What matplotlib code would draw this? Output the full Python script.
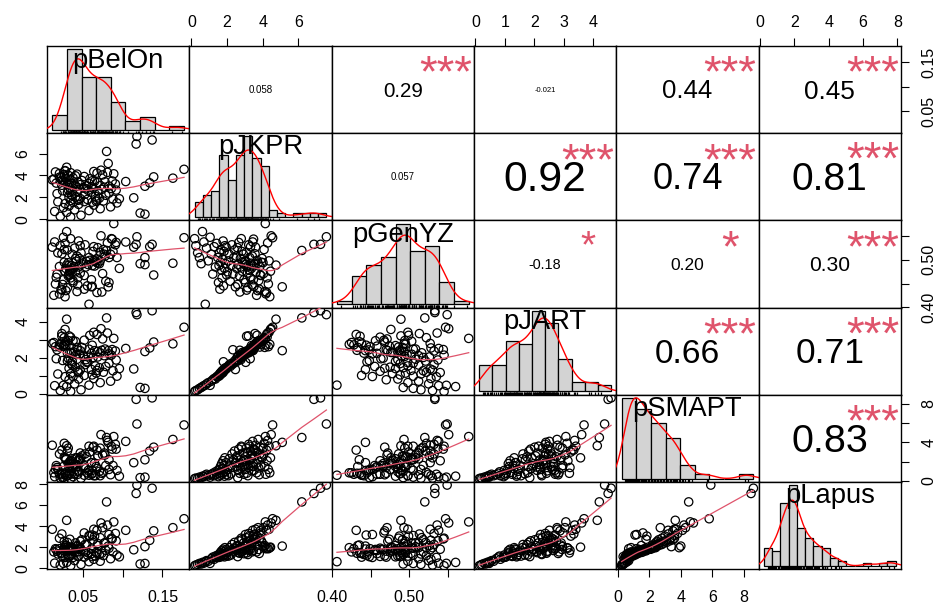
import numpy as np
import matplotlib
matplotlib.use("Agg")
import matplotlib.pyplot as plt
import matplotlib.transforms as mtransforms
from matplotlib.font_manager import FontProperties
from matplotlib.textpath import TextPath

plt.rcParams['font.family'] = ['Liberation Sans', 'DejaVu Sans']

# estimated observations (read off the scatter panels / histograms)
pBelOn = [0.035, 0.022, 0.048, 0.128, 0.122, 0.030, 0.015, 0.058, 0.040, 0.072,
          0.026, 0.085, 0.033, 0.064, 0.045, 0.028, 0.093, 0.038, 0.062, 0.019,
          0.052, 0.067, 0.076, 0.035, 0.044, 0.068, 0.045, 0.056, 0.088, 0.096,
          0.047, 0.071, 0.114, 0.033, 0.041, 0.066, 0.037, 0.079, 0.036, 0.053,
          0.018, 0.083, 0.031, 0.061, 0.043, 0.037, 0.069, 0.025, 0.057, 0.092,
          0.032, 0.074, 0.046, 0.054, 0.086, 0.063, 0.034, 0.051, 0.077, 0.061,
          0.042, 0.128, 0.083, 0.055, 0.072, 0.024, 0.039, 0.047, 0.031, 0.033,
          0.091, 0.036, 0.058, 0.017, 0.134, 0.069, 0.029, 0.044, 0.078, 0.104,
          0.065, 0.026, 0.087, 0.062, 0.049, 0.024, 0.012, 0.034, 0.014, 0.059,
          0.029, 0.163, 0.038, 0.023, 0.021, 0.139, 0.052, 0.027, 0.041, 0.032,
          0.075, 0.027, 0.043, 0.089, 0.021, 0.068, 0.035, 0.081, 0.016, 0.064,
          0.028, 0.028, 0.073, 0.177, 0.030, 0.082, 0.080, 0.117, 0.137, 0.118]
pJKPR = [0.18, 0.25, 0.35, 0.45, 0.55, 0.62, 0.70, 0.78, 0.85, 0.95,
         1.05, 1.12, 1.20, 1.28, 1.35, 1.42, 1.48, 1.52, 1.55, 1.58,
         1.60, 1.63, 1.66, 1.70, 1.72, 1.75, 1.78, 1.80, 1.83, 1.86,
         1.88, 1.92, 1.95, 1.98, 2.02, 2.08, 2.12, 2.18, 2.22, 2.28,
         2.33, 2.38, 2.42, 2.47, 2.52, 2.55, 2.58, 2.60, 2.63, 2.66,
         2.70, 2.72, 2.75, 2.78, 2.80, 2.83, 2.86, 2.88, 2.92, 2.95,
         2.98, 3.01, 3.03, 3.05, 3.08, 3.10, 3.12, 3.15, 3.17, 3.20,
         3.22, 3.25, 3.27, 3.30, 3.32, 3.35, 3.37, 3.40, 3.42, 3.44,
         3.46, 3.48, 3.49, 3.51, 3.54, 3.57, 3.60, 3.63, 3.66, 3.69,
         3.72, 3.75, 3.78, 3.81, 3.84, 3.87, 3.90, 3.94, 3.97, 4.02,
         4.05, 4.08, 4.12, 4.15, 4.18, 4.22, 4.25, 4.28, 4.32, 4.36,
         4.40, 4.44, 4.48, 4.56, 4.75, 5.10, 6.20, 6.88, 7.25, 7.58]
pGenYZ = [0.545, 0.530, 0.515, 0.505, 0.492, 0.560, 0.538, 0.406, 0.525, 0.498,
          0.548, 0.512, 0.470, 0.528, 0.485, 0.535, 0.505, 0.452, 0.488, 0.515,
          0.438, 0.495, 0.522, 0.478, 0.462, 0.502, 0.540, 0.445, 0.518, 0.482,
          0.530, 0.492, 0.527, 0.468, 0.475, 0.498, 0.512, 0.455, 0.488, 0.532,
          0.470, 0.505, 0.521, 0.443, 0.508, 0.482, 0.526, 0.448, 0.490, 0.537,
          0.466, 0.432, 0.503, 0.485, 0.545, 0.518, 0.476, 0.494, 0.512, 0.458,
          0.497, 0.490, 0.452, 0.497, 0.516, 0.436, 0.485, 0.472, 0.441, 0.489,
          0.532, 0.478, 0.505, 0.463, 0.528, 0.493, 0.482, 0.447, 0.508, 0.538,
          0.487, 0.458, 0.544, 0.444, 0.491, 0.513, 0.527, 0.474, 0.425, 0.499,
          0.435, 0.493, 0.456, 0.438, 0.486, 0.468, 0.467, 0.495, 0.503, 0.494,
          0.471, 0.522, 0.433, 0.577, 0.428, 0.431, 0.462, 0.536, 0.449, 0.498,
          0.422, 0.476, 0.551, 0.547, 0.489, 0.443, 0.520, 0.533, 0.533, 0.549]
pJART = [0.13, 0.18, 0.22, 0.30, 0.35, 0.40, 0.45, 0.48, 0.55, 0.62,
         0.47, 0.70, 0.78, 0.85, 0.82, 0.95, 0.98, 0.96, 1.05, 1.10,
         1.02, 1.15, 1.20, 1.12, 1.25, 1.30, 1.18, 1.78, 1.28, 1.40,
         1.32, 1.45, 1.38, 1.42, 1.48, 1.55, 1.60, 1.52, 1.68, 1.62,
         2.45, 1.70, 1.82, 1.35, 1.92, 1.80, 2.05, 1.85, 2.10, 1.88,
         1.98, 2.42, 2.20, 1.90, 2.15, 2.02, 2.30, 2.08, 2.12, 2.25,
         2.18, 2.35, 2.22, 1.75, 2.28, 3.20, 2.32, 2.40, 2.26, 3.22,
         2.38, 2.30, 2.48, 1.95, 2.55, 2.36, 2.68, 2.44, 2.49, 2.52,
         2.40, 2.65, 2.46, 2.70, 2.58, 3.35, 2.80, 2.66, 2.85, 3.25,
         2.90, 2.78, 2.95, 2.82, 2.60, 2.88, 2.98, 2.76, 2.92, 2.96,
         3.05, 3.12, 2.58, 3.08, 2.72, 3.30, 3.15, 3.38, 2.62, 3.42,
         2.75, 3.58, 3.62, 3.70, 4.15, 2.40, 4.22, 4.52, 4.62, 4.40]
pSMAPT = [0.25, 0.30, 0.28, 0.40, 0.35, 0.50, 0.45, 0.60, 0.70, 0.55,
          0.40, 0.65, 0.80, 0.55, 0.95, 0.70, 1.10, 0.45, 0.80, 1.20,
          0.60, 1.50, 0.90, 1.80, 0.70, 1.30, 2.10, 0.85, 1.60, 0.50,
          2.40, 1.00, 1.90, 0.65, 1.20, 0.55, 2.30, 1.60, 0.75, 2.80,
          1.40, 2.20, 3.10, 1.90, 2.40, 1.50, 2.60, 0.35, 1.10, 3.30,
          1.80, 0.80, 2.20, 1.30, 3.60, 3.50, 2.00, 1.45, 2.90, 0.70,
          1.70, 2.20, 1.20, 2.50, 3.40, 0.80, 1.70, 2.90, 0.55, 1.40,
          3.80, 2.10, 3.60, 1.60, 3.10, 2.60, 2.30, 1.05, 2.70, 4.10,
          1.85, 1.50, 3.30, 1.10, 2.60, 3.20, 3.70, 1.80, 0.85, 3.00,
          2.20, 4.30, 1.35, 0.65, 2.80, 3.50, 1.60, 2.50, 2.40, 3.40,
          2.70, 3.90, 1.50, 4.60, 0.70, 3.20, 2.10, 4.20, 1.20, 3.60,
          0.85, 2.40, 4.80, 5.80, 3.65, 4.00, 4.50, 8.45, 8.60, 5.90]
pLapus = [0.23, 0.30, 0.36, 0.45, 0.40, 0.55, 0.48, 0.62, 0.72, 0.66,
          0.46, 0.90, 1.05, 0.85, 1.15, 1.02, 1.25, 1.02, 1.10, 1.35,
          1.05, 1.50, 1.20, 1.65, 1.12, 1.40, 1.80, 1.25, 1.55, 1.08,
          1.95, 1.30, 1.75, 1.18, 1.52, 1.15, 1.95, 1.70, 1.25, 2.25,
          1.62, 1.90, 2.45, 1.82, 2.05, 1.68, 2.15, 1.10, 1.48, 2.60,
          1.78, 1.42, 1.92, 1.55, 2.85, 2.70, 1.85, 1.60, 2.38, 1.38,
          1.75, 2.05, 3.20, 2.25, 2.90, 1.45, 1.85, 2.55, 1.30, 1.70,
          3.30, 1.96, 3.10, 1.78, 2.65, 2.35, 2.15, 1.55, 2.42, 3.60,
          3.05, 1.68, 2.78, 3.15, 2.70, 3.25, 3.70, 2.75, 1.55, 3.05,
          2.20, 3.85, 1.78, 1.40, 2.85, 3.55, 3.35, 2.55, 2.40, 2.05,
          3.85, 1.95, 2.15, 4.40, 1.85, 3.60, 1.90, 4.10, 1.85, 3.70,
          1.95, 2.00, 4.30, 4.70, 4.55, 2.10, 6.30, 7.10, 7.60, 7.90]

var_names = ['pBelOn', 'pJKPR', 'pGenYZ', 'pJART', 'pSMAPT', 'pLapus']

# upper panels, row by row: (1,2) (1,3) ... (5,6)
cor_text = ['0.058', '0.29', '-0.021', '0.44', '0.45',
            '0.057', '0.92', '0.74', '0.81',
            '-0.18', '0.20', '0.30',
            '0.66', '0.71',
            '0.83']
cor_stars = ['', '***', '', '***', '***',
             '', '***', '***', '***',
             '*', '*', '***',
             '***', '***',
             '***']

hist_step = [0.02, 0.5, 0.02, 0.5, 1.0, 0.5]

top_ticks = {1: [0, 2, 4, 6], 3: [0, 1, 2, 3, 4], 5: [0, 2, 4, 6, 8]}
top_labels = {1: ['0', '2', '4', '6'], 3: ['0', '1', '2', '3', '4'], 5: ['0', '2', '4', '6', '8']}
bottom_ticks = {0: [0.05, 0.10, 0.15], 2: [0.40, 0.45, 0.50, 0.55], 4: [0, 2, 4, 6, 8]}
bottom_labels = {0: ['0.05', '', '0.15'], 2: ['0.40', '', '0.50', ''], 4: ['0', '2', '4', '6', '8']}
left_ticks = {1: [0, 2, 4, 6], 3: [0, 1, 2, 3, 4], 5: [0, 2, 4, 6, 8]}
left_labels = {1: ['0', '2', '4', '6'], 3: ['0', '', '2', '', '4'], 5: ['0', '2', '4', '6', '8']}
right_ticks = {0: [0.05, 0.10, 0.15], 2: [0.40, 0.45, 0.50, 0.55], 4: [0, 2, 4, 6, 8]}
right_labels = {0: ['0.05', '', '0.15'], 2: ['0.40', '', '0.50', ''], 4: ['0', '', '4', '', '8']}

data = [np.array(v, dtype=float) for v in (pBelOn, pJKPR, pGenYZ, pJART, pSMAPT, pLapus)]
nv = len(data)

SMOOTH_COL = '#DF536B'
FAM = ['Liberation Sans', 'DejaVu Sans']


def lowess(x, y, f=2 / 3, iters=3):
    o = np.argsort(x)
    x = x[o]
    y = y[o]
    n = len(x)
    r = max(min(int(np.floor(f * n + 1e-7)), n), 2)
    fit = np.zeros(n)
    rw = np.ones(n)
    for it in range(iters + 1):
        for i in range(n):
            d = np.abs(x - x[i])
            h = np.sort(d)[r - 1]
            u = np.clip(d / max(h, 1e-12), 0, 1)
            w = (1 - u ** 3) ** 3 * rw
            sw = w.sum()
            xm = (w * x).sum() / sw
            ym = (w * y).sum() / sw
            den = (w * (x - xm) ** 2).sum()
            b = (w * (x - xm) * (y - ym)).sum() / den if den > 1e-12 else 0.0
            fit[i] = ym + b * (x[i] - xm)
        res = y - fit
        s = np.median(np.abs(res))
        if s < 1e-12:
            break
        u = np.clip(res / (6 * s), -1, 1)
        rw = (1 - u ** 2) ** 2
    return x, fit


def kde(v):
    n = len(v)
    sd = np.std(v, ddof=1)
    q75, q25 = np.percentile(v, [75, 25])
    bw = 0.9 * min(sd, (q75 - q25) / 1.34) * n ** -0.2
    xs = np.linspace(v.min() - 3 * bw, v.max() + 3 * bw, 512)
    ys = np.exp(-0.5 * ((xs[:, None] - v[None, :]) / bw) ** 2).sum(axis=1) / (n * bw * np.sqrt(2 * np.pi))
    return xs, ys


def padded(lo, hi):
    p = 0.04 * (hi - lo)
    return lo - p, hi + p


W, H = 934, 607
fig = plt.figure(figsize=(9.34, 6.07), dpi=100)
renderer = fig.canvas.get_renderer()

gx0, gx1, gy0, gy1 = 47, 901, 46, 569
pw = (gx1 - gx0) / nv
ph = (gy1 - gy0) / nv


def ink_text(ax, x, y, s, size, color='black'):
    # centre the ink of the string on (x, y), like R's text()
    fp = FontProperties(family=FAM, size=size)
    ext = TextPath((0, 0), s, size=size, prop=fp).get_extents()
    dy = -(ext.y0 + ext.y1) / 2.0 / 72.0
    tr = ax.transAxes + mtransforms.ScaledTranslation(0, dy, fig.dpi_scale_trans)
    ax.text(x, y, s, fontproperties=fp, color=color, ha='center', va='baseline', transform=tr)


k = 0
for i in range(nv):
    for j in range(nv):
        ax = fig.add_axes([(gx0 + j * pw) / W, 1 - (gy0 + (i + 1) * ph) / H, pw / W, ph / H])
        for sp in ax.spines.values():
            sp.set_linewidth(1.0)
            sp.set_color('black')
        ax.set_xticks([])
        ax.set_yticks([])
        if i == j:
            v = data[i]
            step = hist_step[i]
            lo = np.floor(v.min() / step + 1e-9) * step
            hi = np.ceil(v.max() / step - 1e-9) * step
            edges = np.arange(lo, hi + step / 2, step)
            counts = np.array([np.sum((v > a) & (v <= b)) for a, b in zip(edges[:-1], edges[1:])])
            counts[0] += np.sum(v == edges[0])
            dens = counts / (len(v) * step)
            ax.bar(edges[:-1], dens, width=step, align='edge', color='#D3D3D3',
                   edgecolor='black', linewidth=0.9, zorder=2)
            xs, ys = kde(v)
            ax.plot(xs, ys, color='red', lw=1.0, zorder=3)
            tr = mtransforms.blended_transform_factory(ax.transData, ax.transAxes)
            ax.vlines(v, 0, 0.03, transform=tr, color='black', lw=0.9, zorder=4)
            ax.set_xlim(*padded(edges[0], edges[-1]))
            m = dens.max()
            ax.set_ylim(-0.04 * m, 1.04 * m)
            ink_text(ax, 0.5, 0.833, var_names[i], 19.7)
        else:
            ax.set_xlim(*padded(data[j].min(), data[j].max()))
            ax.set_ylim(*padded(data[i].min(), data[i].max()))
            if i > j:
                ax.scatter(data[j], data[i], s=36, facecolors='none', edgecolors='black',
                           linewidths=0.9, zorder=2)
                lx, ly = lowess(data[j], data[i])
                ax.plot(lx, ly, color=SMOOTH_COL, lw=0.9, zorder=3)
            else:
                txt = cor_text[k]
                stars = cor_stars[k]
                k += 1
                fp10 = FontProperties(family=FAM, size=10)
                w10, _, _ = renderer.get_text_width_height_descent(txt, fp10, ismath=False)
                base = 10 * (0.62 * pw) / w10
                r = abs(float(txt))
                ink_text(ax, 0.5, 0.5, txt, base * (r + 0.3) / 1.3)
                if stars:
                    ink_text(ax, 0.8, 0.8, stars, base, color=SMOOTH_COL)

        tick_kw = dict(direction='out', length=6, width=0.8, labelsize=11.5, colors='black')
        if i == 0 and j in top_ticks and i != j:
            ax.xaxis.set_ticks_position('top')
            ax.set_xticks(top_ticks[j])
            ax.set_xticklabels(top_labels[j])
            ax.tick_params(axis='x', pad=5.5, **tick_kw)
        if i == nv - 1 and j in bottom_ticks and i != j:
            ax.xaxis.set_ticks_position('bottom')
            ax.set_xticks(bottom_ticks[j])
            ax.set_xticklabels(bottom_labels[j])
            ax.tick_params(axis='x', pad=9, **tick_kw)
        if j == 0 and i in left_ticks and i != j:
            ax.yaxis.set_ticks_position('left')
            ax.set_yticks(left_ticks[i])
            ax.set_yticklabels(left_labels[i], rotation=90, va='center')
            ax.tick_params(axis='y', pad=5.8, **tick_kw)
        if j == nv - 1 and i in right_ticks and i != j:
            ax.yaxis.set_ticks_position('right')
            ax.set_yticks(right_ticks[i])
            ax.set_yticklabels(right_labels[i], rotation=90, va='center')
            ax.tick_params(axis='y', pad=8.6, **tick_kw)

fig.savefig('out.png', dpi=100)
